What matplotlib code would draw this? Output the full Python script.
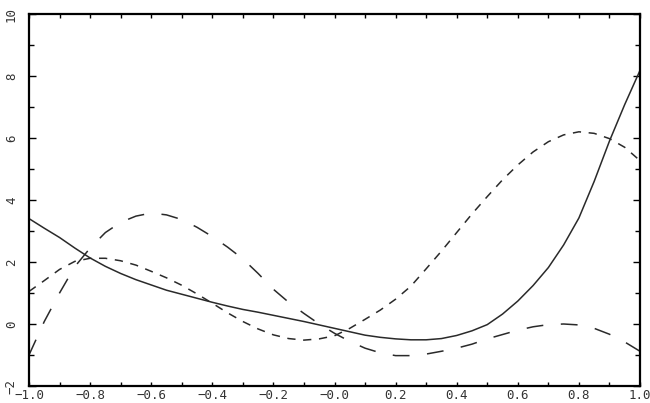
import matplotlib
matplotlib.use("Agg")
import matplotlib.pyplot as plt
from matplotlib.ticker import MultipleLocator, FixedLocator, FixedFormatter

x_vals = [-1.0, -0.95, -0.9, -0.85, -0.8, -0.75, -0.7, -0.65, -0.6, -0.55, -0.5,
          -0.45, -0.4, -0.35, -0.3, -0.25, -0.2, -0.15, -0.1, -0.05, 0.0,
          0.05, 0.1, 0.15, 0.2, 0.25, 0.3, 0.35, 0.4, 0.45, 0.5,
          0.55, 0.6, 0.65, 0.7, 0.75, 0.8, 0.85, 0.9, 0.95, 1.0]

y_solid = [3.40, 3.09, 2.79, 2.45, 2.13, 1.86, 1.63, 1.43, 1.26, 1.09, 0.96,
           0.83, 0.70, 0.58, 0.47, 0.38, 0.28, 0.18, 0.08, -0.03, -0.14,
           -0.25, -0.36, -0.43, -0.48, -0.51, -0.51, -0.47, -0.37, -0.22, -0.02,
           0.32, 0.74, 1.24, 1.82, 2.55, 3.42, 4.60, 5.90, 7.08, 8.18]

y_short = [1.05, 1.40, 1.76, 2.02, 2.12, 2.12, 2.04, 1.90, 1.70, 1.49, 1.25,
           0.97, 0.67, 0.36, 0.08, -0.16, -0.35, -0.47, -0.52, -0.48, -0.38,
           -0.14, 0.15, 0.45, 0.80, 1.22, 1.78, 2.35, 2.95, 3.55, 4.11,
           4.65, 5.13, 5.55, 5.88, 6.10, 6.20, 6.15, 5.98, 5.70, 5.27]

y_long = [-1.00, 0.08, 1.00, 1.85, 2.45, 2.95, 3.28, 3.48, 3.58, 3.52, 3.37,
          3.12, 2.82, 2.48, 2.10, 1.63, 1.12, 0.70, 0.34, 0.00, -0.30,
          -0.56, -0.78, -0.93, -1.02, -1.02, -0.97, -0.88, -0.78, -0.65, -0.48,
          -0.34, -0.20, -0.09, -0.02, 0.00, -0.03, -0.14, -0.33, -0.58, -0.88]

x_ticks = [-1.0, -0.8, -0.6, -0.4, -0.2, 0.0, 0.2, 0.4, 0.6, 0.8, 1.0]
x_labels = ["\u22121.0", "\u22120.8", "\u22120.6", "\u22120.4", "\u22120.2", "\u22120.0",
            "0.2", "0.4", "0.6", "0.8", "1.0"]
y_ticks = [-2, 0, 2, 4, 6, 8, 10]
y_labels = ["\u22122", "0", "2", "4", "6", "8", "10"]

fig = plt.figure(figsize=(6.5, 4.03), dpi=100)
ax = fig.add_axes([29 / 650, 17 / 403, 611 / 650, 372 / 403])

lc = "#2a2a2a"
ax.plot(x_vals, y_solid, color=lc, lw=1.1, solid_joinstyle="round")
ax.plot(x_vals, y_short, color=lc, lw=1.1, dashes=(5.4, 5.0))
ax.plot(x_vals, y_long, color=lc, lw=1.1, dashes=(11.0, 11.5))

ax.set_xlim(-1, 1)
ax.set_ylim(-2, 10)

ax.xaxis.set_major_locator(FixedLocator(x_ticks))
ax.xaxis.set_major_formatter(FixedFormatter(x_labels))
ax.xaxis.set_minor_locator(MultipleLocator(0.1))
ax.yaxis.set_major_locator(FixedLocator(y_ticks))
ax.yaxis.set_major_formatter(FixedFormatter(y_labels))
ax.yaxis.set_minor_locator(MultipleLocator(1))

for s in ax.spines.values():
    s.set_linewidth(1.6)
    s.set_color("black")

ax.tick_params(axis="both", which="both", direction="in", top=True, right=True,
               color="black", width=1.0)
ax.tick_params(axis="x", which="major", length=3, pad=2.0, labelsize=9, labelcolor="#333333")
ax.tick_params(axis="x", which="minor", length=3)
ax.tick_params(axis="y", which="major", length=5, pad=8, labelsize=9, labelcolor="#333333",
               labelrotation=90)
ax.tick_params(axis="y", which="minor", length=3.5)

for lab in ax.get_xticklabels() + ax.get_yticklabels():
    lab.set_family("DejaVu Sans Mono")
for lab in ax.get_yticklabels():
    lab.set_verticalalignment("center")

fig.savefig("out.png", dpi=100)
